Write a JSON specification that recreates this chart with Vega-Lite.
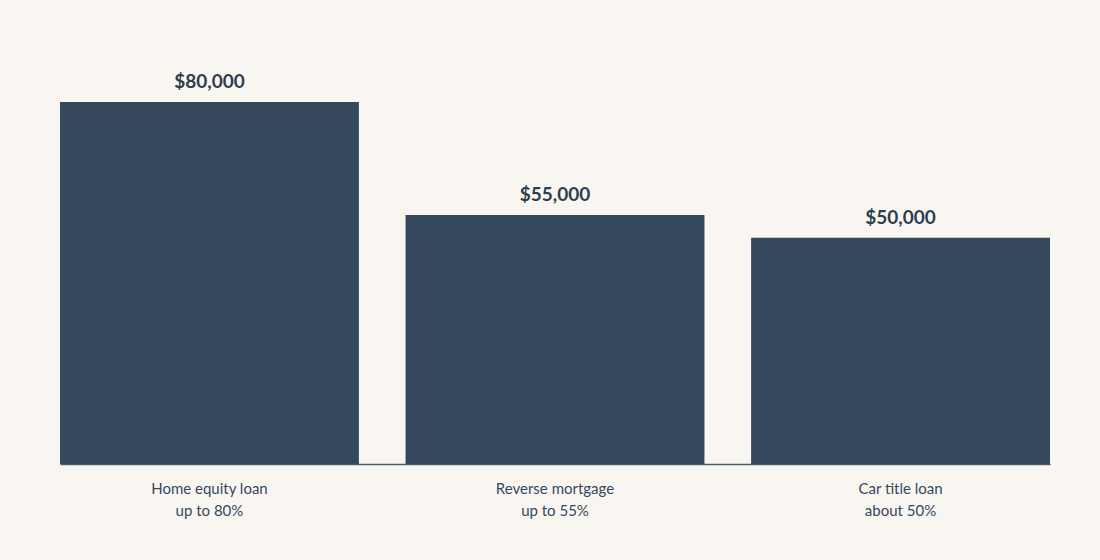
{
  "$schema": "https://vega.github.io/schema/vega-lite/v6.json",
  "autosize": "none",
  "width": 990,
  "height": 444,
  "padding": {"left": 60, "top": 20, "right": 50, "bottom": 96},
  "background": "#f9f6f1",
  "data": {
    "values": [
      {"loan": "Home equity loan|up to 80%", "amount": 80000, "label": "$80,000"},
      {"loan": "Reverse mortgage|up to 55%", "amount": 55000, "label": "$55,000"},
      {"loan": "Car title loan|about 50%", "amount": 50000, "label": "$50,000"}
    ]
  },
  "encoding": {
    "x": {
      "field": "loan",
      "type": "nominal",
      "sort": null,
      "title": null,
      "scale": {"paddingInner": 0.135, "paddingOuter": 0},
      "axis": {
        "labelAngle": 0,
        "labelExpr": "split(datum.label, '|')",
        "labelFont": "Lato",
        "labelFontSize": 15,
        "labelColor": "#34495e",
        "labelLineHeight": 22,
        "labelPadding": 17,
        "ticks": false,
        "domain": true,
        "domainColor": "#4a5c6e",
        "domainWidth": 1.5
      }
    },
    "y": {
      "field": "amount",
      "type": "quantitative",
      "scale": {"domain": [0, 98100]},
      "axis": null
    }
  },
  "layer": [
    {"mark": {"type": "bar", "color": "#34495e"}},
    {
      "mark": {
        "type": "text",
        "dy": -20,
        "font": "Lato",
        "fontSize": 19,
        "fontWeight": "bold",
        "color": "#2c3e50"
      },
      "encoding": {"text": {"field": "label"}}
    }
  ],
  "config": {
    "view": {"stroke": null},
    "axis": {"grid": false}
  }
}
